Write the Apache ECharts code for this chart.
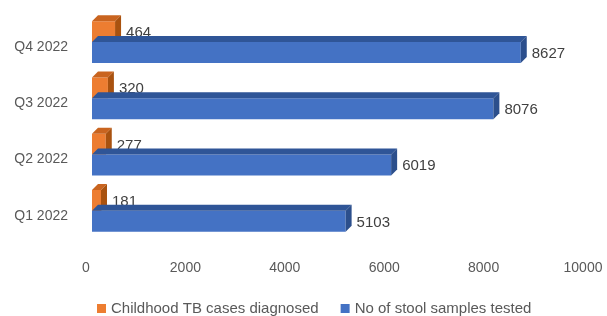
<!DOCTYPE html>
<html>
<head>
<meta charset="utf-8">
<script src="https://cdn.jsdelivr.net/npm/echarts@6/dist/echarts.min.js"></script>
<style>
  html, body { margin: 0; padding: 0; background: #fff; }
  #main { width: 607px; height: 316px; }
</style>
</head>
<body>
<div id="main"></div>
<script>
// data
var quarters = ['Q1 2022', 'Q2 2022', 'Q3 2022', 'Q4 2022'];
var tbCases = [181, 277, 320, 464];
var stoolSamples = [5103, 6019, 8076, 8627];
var seriesNames = ['Childhood TB cases diagnosed', 'No of stool samples tested'];

var FONT = 'Liberation Sans';

// pseudo 3D bar: front face + top face + side face, label to the right
function bar3d(front, top, side, shiftY) {
    return function (params, api) {
        var v = api.value(0), c = api.value(1);
        var p0 = api.coord([0, c]);
        var p1 = api.coord([v, c]);
        var band = api.size([0, 1])[1];
        var h = band * 0.37;
        var d = 6;
        var x0 = p0[0] + 6, x1 = p1[0] + 6;
        var y0 = p0[1] + shiftY * band;
        return {
            type: 'group',
            children: [
                { type: 'rect', shape: { x: x0, y: y0, width: x1 - x0, height: h }, style: { fill: front } },
                { type: 'polygon', shape: { points: [[x0, y0], [x0 + d, y0 - d], [x1 + d, y0 - d], [x1, y0]] }, style: { fill: top } },
                { type: 'polygon', shape: { points: [[x1, y0], [x1 + d, y0 - d], [x1 + d, y0 + h - d], [x1, y0 + h]] }, style: { fill: side } },
                { type: 'text', style: { text: String(v), x: x1 + d + 5, y: y0 + h * 0.56, textVerticalAlign: 'middle', fill: '#404040', font: '15px "' + FONT + '"' } }
            ]
        };
    };
}

var myChart = echarts.init(document.getElementById('main'));
var option = {
    animation: false,
    textStyle: { fontFamily: FONT },
    grid: { left: 86, right: 24, top: 19, bottom: 72 },
    legend: {
        left: 92,
        top: 296,
        itemWidth: 9,
        itemHeight: 9,
        itemGap: 22,
        icon: 'rect',
        textStyle: { fontSize: 15, color: '#595959' },
        data: seriesNames
    },
    xAxis: {
        type: 'value',
        min: 0,
        max: 10000,
        interval: 2000,
        axisLine: { show: false },
        axisTick: { show: false },
        splitLine: { show: false },
        axisLabel: { fontSize: 14, color: '#595959', margin: 17, formatter: function (v) { return String(v); } }
    },
    yAxis: {
        type: 'category',
        data: quarters,
        axisLine: { show: false },
        axisTick: { show: false },
        axisLabel: { fontSize: 14, color: '#595959', margin: 18 }
    },
    series: [
        {
            name: seriesNames[0],
            type: 'custom',
            itemStyle: { color: '#ED7D31' },
            renderItem: bar3d('#ED7D31', '#C9641F', '#A9520F', -0.46),
            encode: { x: 0, y: 1 },
            data: tbCases.map(function (v, i) { return [v, i]; })
        },
        {
            name: seriesNames[1],
            type: 'custom',
            itemStyle: { color: '#4472C4' },
            renderItem: bar3d('#4472C4', '#2F5597', '#2C4F8C', -0.09),
            encode: { x: 0, y: 1 },
            data: stoolSamples.map(function (v, i) { return [v, i]; })
        }
    ]
};
myChart.setOption(option);
</script>
</body>
</html>
